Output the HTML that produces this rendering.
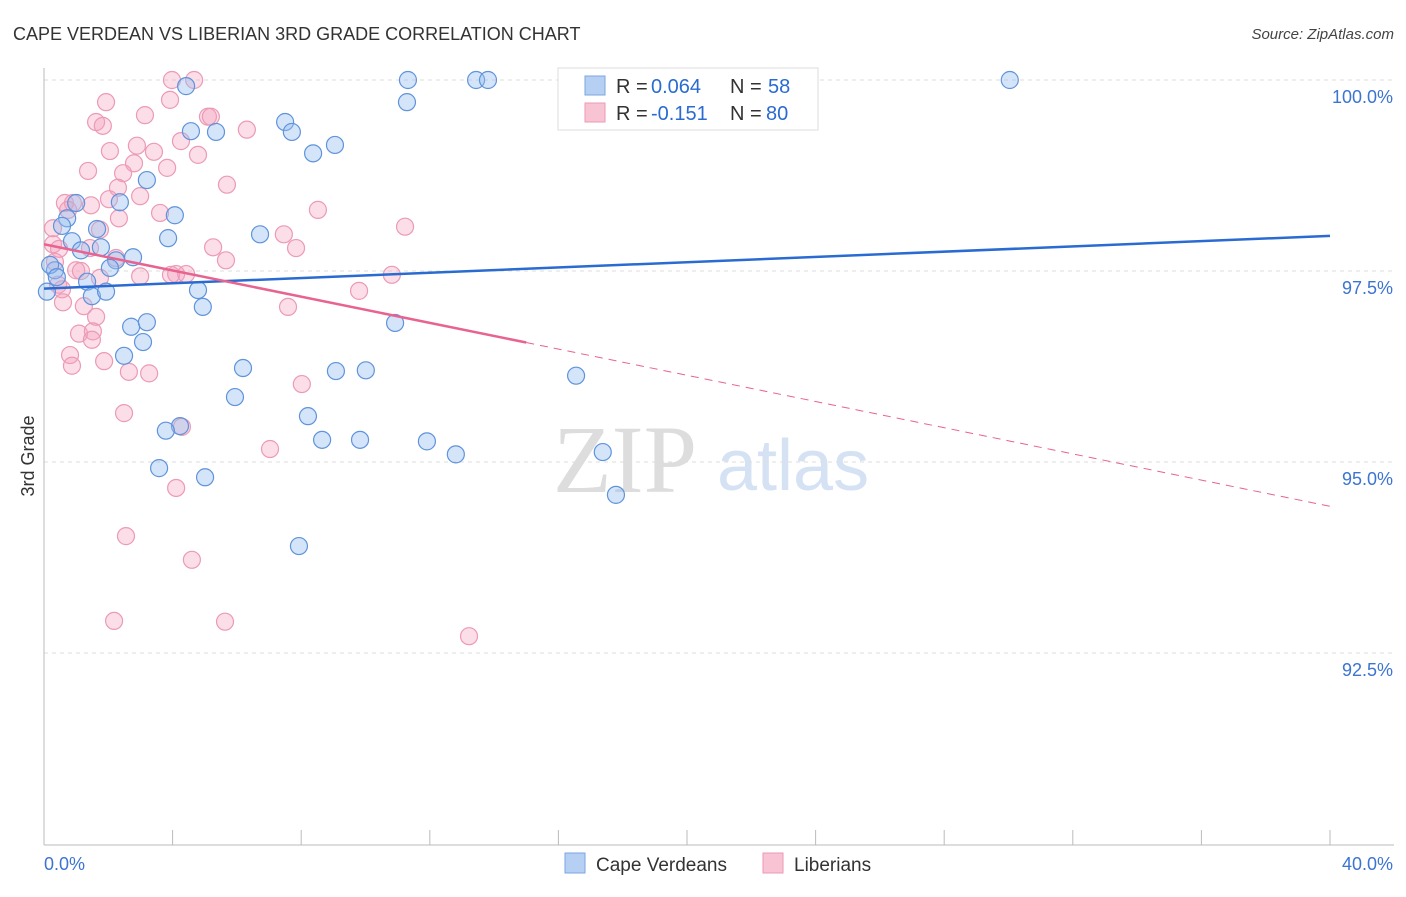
<!DOCTYPE html>
<html><head><meta charset="utf-8"><style>
body{margin:0;background:#fff;font-family:"Liberation Sans",sans-serif;}
</style></head><body>
<svg id="chart" width="1406" height="892" xmlns="http://www.w3.org/2000/svg" font-family="Liberation Sans, sans-serif">
<text x="13" y="40" font-size="18" fill="#333">CAPE VERDEAN VS LIBERIAN 3RD GRADE CORRELATION CHART</text>
<text x="1394" y="39" font-size="15" fill="#444" font-style="italic" text-anchor="end">Source: ZipAtlas.com</text>
<text x="553" y="492" font-size="96" font-family="Liberation Serif, serif" fill="#ddd">ZIP</text>
<text x="717" y="490" font-size="72" fill="#d5e2f4">atlas</text>
<text transform="translate(34,456) rotate(-90)" font-size="18" fill="#333" text-anchor="middle">3rd Grade</text>
<g id="grid"></g><g id="pts"></g><g id="lines"></g>
<g>
<rect x="558" y="68" width="260" height="62" fill="#fff" stroke="#ddd"/>
<rect x="585" y="76" width="20" height="19" fill="#b5d0f2" stroke="#7aa6e0"/>
<rect x="585" y="103" width="20" height="19" fill="#f8c3d3" stroke="#eb99b4"/>
<text x="616" y="93" font-size="20" fill="#333">R =</text>
<text x="651" y="93" font-size="20" fill="#2a6bd1">0.064</text>
<text x="730" y="93" font-size="20" fill="#333">N =</text>
<text x="768" y="93" font-size="20" fill="#2a6bd1">58</text>
<text x="616" y="120" font-size="20" fill="#333">R =</text>
<text x="651" y="120" font-size="20" fill="#2a6bd1">-0.151</text>
<text x="730" y="120" font-size="20" fill="#333">N =</text>
<text x="766" y="120" font-size="20" fill="#2a6bd1">80</text>
</g>
<g>
<rect x="565" y="853" width="20" height="20" fill="#b5d0f2" stroke="#7aa6e0"/>
<text x="596" y="871" font-size="19" fill="#333">Cape Verdeans</text>
<rect x="763" y="853" width="20" height="20" fill="#f8c3d3" stroke="#eb99b4"/>
<text x="794" y="871" font-size="19" fill="#333">Liberians</text>
</g>
</svg>
<script>
const blueX=[4.42,11.32,13.44,13.81,30.04,11.29,4.57,5.35,7.50,7.71,9.05,8.37,3.20,2.36,0.72,4.07,1.00,0.56,1.65,6.72,3.86,0.87,1.77,1.15,2.77,2.24,2.05,0.34,0.19,0.40,1.34,4.79,1.49,1.93,4.94,0.09,2.71,3.20,3.08,10.92,2.49,6.19,9.08,10.01,16.55,5.94,8.21,4.23,3.79,8.65,9.83,11.91,12.81,17.38,3.58,5.01,17.79,7.93];
const blueY=[99.92,100,100,100,100,99.71,99.33,99.32,99.45,99.32,99.15,99.04,98.69,98.40,98.19,98.23,98.39,98.09,98.05,97.98,97.93,97.89,97.81,97.77,97.68,97.64,97.54,97.51,97.58,97.42,97.36,97.25,97.17,97.23,97.03,97.23,96.77,96.83,96.57,96.82,96.39,96.23,96.19,96.20,96.13,95.85,95.60,95.47,95.41,95.29,95.29,95.27,95.10,95.13,94.92,94.80,94.57,93.90];
const pinkX=[3.98,4.67,1.93,3.92,3.14,5.10,5.19,1.62,1.83,6.31,4.26,2.89,2.05,3.42,4.79,2.80,1.37,3.83,2.46,5.69,2.30,2.99,2.02,0.65,1.46,0.90,8.52,3.61,2.33,0.75,0.28,11.23,7.46,1.74,0.28,5.26,7.84,0.47,1.43,5.66,2.24,0.34,1.00,1.15,2.99,4.11,4.42,3.95,10.82,1.74,0.44,0.56,9.80,0.59,1.24,7.59,1.62,1.09,1.52,1.49,0.81,0.87,1.87,2.64,3.27,8.02,2.49,4.29,7.03,4.11,2.55,4.60,2.18,5.63,13.22];
const pinkY=[100,100,99.71,99.74,99.54,99.52,99.52,99.45,99.40,99.35,99.20,99.14,99.07,99.06,99.02,98.91,98.81,98.85,98.78,98.63,98.59,98.48,98.44,98.39,98.36,98.39,98.30,98.26,98.19,98.30,98.06,98.08,97.98,98.04,97.85,97.81,97.80,97.79,97.80,97.64,97.67,97.62,97.51,97.50,97.43,97.46,97.46,97.45,97.45,97.41,97.32,97.26,97.24,97.09,97.04,97.03,96.90,96.68,96.71,96.60,96.40,96.26,96.32,96.18,96.16,96.02,95.64,95.46,95.17,94.66,94.03,93.72,92.92,92.91,92.72];
const yTicks=[100,97.5,95,92.5];
const yTickLabels=["100.0%","97.5%","95.0%","92.5%"];
const blueTrend=[97.27,97.96];
const pinkTrend=[97.85,94.42];
const pinkSolidEnd=15;
const NS="http://www.w3.org/2000/svg";
const sx=v=>44+v/40*1286;
const sy=v=>80+(100-v)*76.4;
function mk(tag,attrs,parent){const e=document.createElementNS(NS,tag);for(const k in attrs)e.setAttribute(k,attrs[k]);parent.appendChild(e);return e;}
const grid=document.getElementById('grid');
yTicks.forEach((t,i)=>{
 const l=mk('line',{x1:44,x2:1394,y1:sy(t),y2:sy(t),stroke:'#ddd','stroke-dasharray':'4 4'},grid);
 
 
 const tx=mk('text',{x:1393,y:sy(t)+23,'font-size':18,fill:'#3b74d1','text-anchor':'end'},grid);
 tx.textContent=yTickLabels[i];
 
 
});
const ax=mk('line',{x1:44,x2:1394,y1:845,y2:845,stroke:'#bbb'},grid);


const ay=mk('line',{x1:44,x2:44,y1:68,y2:845,stroke:'#bbb'},grid);


for(let i=0;i<=10;i++){const t=mk('line',{x1:sx(i*4),x2:sx(i*4),y1:830,y2:845,stroke:'#bbb'},grid);
 
 }
[["0.0%",44,'start'],["40.0%",1393,'end']].forEach(a=>{const t=mk('text',{x:a[1],y:870,'font-size':18,fill:'#3b74d1','text-anchor':a[2]},grid);t.textContent=a[0];
 
 });
const pts=document.getElementById('pts');
pinkX.forEach((x,i)=>{const c=mk('circle',{cx:sx(x),cy:sy(pinkY[i]),r:8.5,fill:'rgba(244,160,188,0.35)',stroke:'#ec9ab5','stroke-width':1.2},pts);
 
 });
blueX.forEach((x,i)=>{const c=mk('circle',{cx:sx(x),cy:sy(blueY[i]),r:8.5,fill:'rgba(150,190,240,0.4)',stroke:'#5f93db','stroke-width':1.2},pts);
 
 });
const lines=document.getElementById('lines');
const bl=mk('line',{x1:sx(0),y1:sy(blueTrend[0]),x2:sx(40),y2:sy(blueTrend[1]),stroke:'#2a6bd1','stroke-width':2.5},lines);


const pAt=x=>pinkTrend[0]+(pinkTrend[1]-pinkTrend[0])*x/40;
const pl=mk('line',{x1:sx(0),y1:sy(pinkTrend[0]),x2:sx(pinkSolidEnd),y2:sy(pAt(pinkSolidEnd)),stroke:'#e8638f','stroke-width':2.5},lines);


const pd=mk('line',{x1:sx(pinkSolidEnd),y1:sy(pAt(pinkSolidEnd)),x2:sx(40),y2:sy(pinkTrend[1]),stroke:'#e8638f','stroke-width':1,'stroke-dasharray':'8 6'},lines);


</script>
</body></html>
